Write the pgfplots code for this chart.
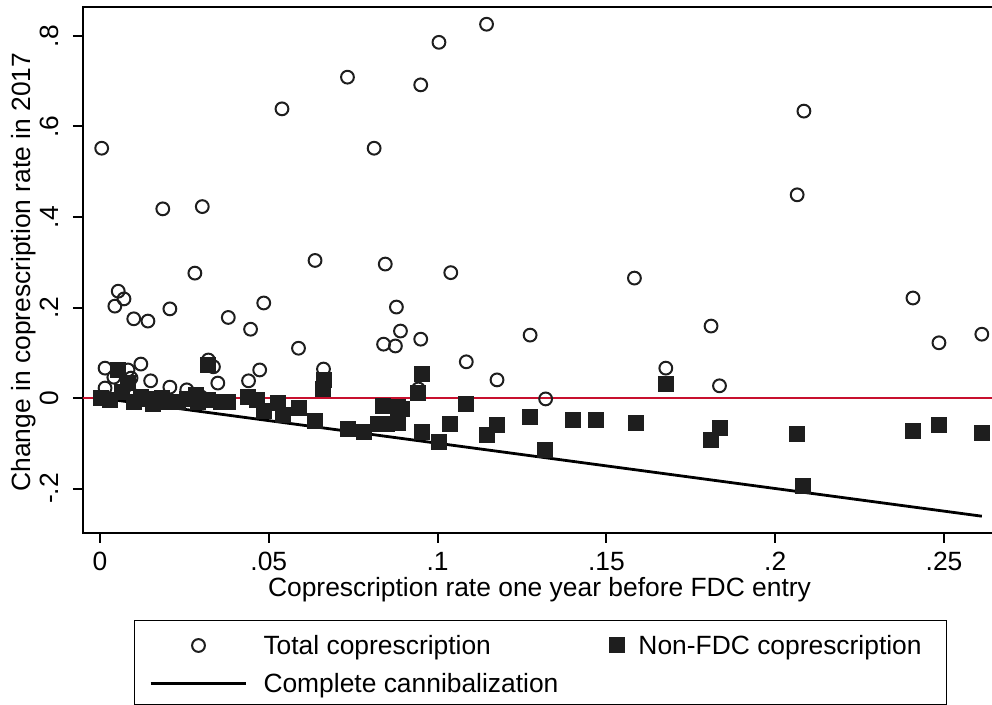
\documentclass[border=0pt]{standalone}
\usepackage{fontspec}
\setmainfont{Liberation Sans}
\usepackage{pgfplots}
\pgfplotsset{compat=1.18}
\definecolor{stred}{RGB}{200,16,46}
\definecolor{mk}{RGB}{30,30,30}

\pgfplotsset{
  cleg/.style={legend image code/.code={\path[draw=none,fill=none] (0pt,-9.5pt) rectangle (64.5pt,12.5pt);
    \draw[##1] plot coordinates {(32pt,0pt)};}},
  sleg/.style={legend image code/.code={\path[draw=none,fill=none] (0pt,-9.5pt) rectangle (21pt,12.5pt);
    \draw[##1] plot coordinates {(10.5pt,0pt)};}},
  lleg/.style={legend image code/.code={\path[draw=none,fill=none] (0pt,-10.5pt) rectangle (64.5pt,9.5pt);
    \draw[##1] (8pt,0pt) -- (55.5pt,0pt);}},
}

\pgfplotstableread{
x y
0.0005 0.552
0.0186 0.418
0.0303 0.423
0.0539 0.639
0.0733 0.709
0.0812 0.552
0.1004 0.786
0.1145 0.826
0.0950 0.692
0.0637 0.304
0.0281 0.276
0.0054 0.236
0.0071 0.219
0.0044 0.203
0.0100 0.175
0.0142 0.170
0.0207 0.197
0.0380 0.178
0.0446 0.152
0.0485 0.210
0.0588 0.110
0.0845 0.296
0.1039 0.277
0.0878 0.201
0.0890 0.148
0.0840 0.119
0.0875 0.115
0.0950 0.130
0.1085 0.080
0.1176 0.040
0.1274 0.139
0.1320 -0.002
0.1583 0.265
0.1676 0.066
0.1810 0.159
0.1835 0.027
0.2065 0.449
0.2085 0.634
0.2408 0.221
0.2485 0.122
0.2612 0.141
0.0015 0.066
0.0083 0.062
0.0121 0.075
0.0041 0.046
0.0092 0.044
0.0150 0.038
0.0015 0.022
0.0207 0.024
0.0257 0.018
0.0349 0.033
0.0440 0.038
0.0473 0.062
0.0321 0.084
0.0336 0.069
0.0662 0.064
0.0943 0.020
0.0100 0.005
0.0300 0.002
}\totaltab

\pgfplotstableread{
x y
0.0003 0.000
0.0030 -0.004
0.0054 0.062
0.0083 0.033
0.0065 0.013
0.0100 -0.009
0.0120 0.002
0.0142 -0.003
0.0157 -0.013
0.0183 0.000
0.0201 -0.009
0.0230 -0.008
0.0257 -0.002
0.0284 0.007
0.0289 -0.009
0.0321 0.073
0.0319 -0.004
0.0358 -0.009
0.0378 -0.009
0.0437 0.002
0.0464 -0.004
0.0485 -0.029
0.0526 -0.011
0.0541 -0.037
0.0588 -0.022
0.0637 -0.051
0.0662 0.040
0.0659 0.020
0.0733 -0.068
0.0783 -0.075
0.0839 -0.018
0.0881 -0.020
0.0895 -0.024
0.0822 -0.057
0.0851 -0.057
0.0881 -0.055
0.0952 0.053
0.0943 0.011
0.0952 -0.075
0.1005 -0.097
0.1037 -0.057
0.1085 -0.013
0.1147 -0.082
0.1176 -0.060
0.1274 -0.042
0.1318 -0.115
0.1400 -0.049
0.1469 -0.049
0.1587 -0.055
0.1676 0.031
0.1835 -0.066
0.1810 -0.093
0.2063 -0.080
0.2083 -0.194
0.2408 -0.073
0.2485 -0.060
0.2612 -0.077
}\nonfdctab

\begin{document}
\fontsize{13.2}{16}\selectfont
\begin{tikzpicture}
\begin{axis}[
  at={(0,0)}, anchor=south west,
  scale only axis, width=456.5pt, height=263pt,
  xmin=-0.005036, xmax=0.2654, ymin=-0.2983, ymax=0.8641,
  axis line style={line width=1pt, black},
  tick pos=left, tick align=outside,
  major tick length=5pt,
  tick style={line width=1pt, black},
  xtick={0,0.05,0.1,0.15,0.2,0.25},
  xticklabels={0,.05,.1,.15,.2,.25},
  ytick={-0.2,0,0.2,0.4,0.6,0.8},
  yticklabels={-.2,0,.2,.4,.6,.8},
  xticklabel style={anchor=north, inner sep=0pt, yshift=-4.5pt},
  yticklabel style={xshift=-7pt, rotate=90, anchor=south, inner sep=0pt},
  xlabel={Coprescription rate one year before FDC entry},
  ylabel={Change in coprescription rate in 2017},
  xlabel style={at={(axis description cs:0.5,0)}, anchor=center, yshift=-28.5pt, inner sep=0pt},
  ylabel style={at={(axis description cs:-0.0646,0.496)}, anchor=center, inner sep=0pt},
  legend columns=2,
  legend style={
    at={(axis description cs:0.05586,-0.1654)}, anchor=north west,
    draw=black, line width=0.5pt,
    inner xsep=0pt, inner ysep=0pt,
    column sep=0pt, row sep=0pt,
    cells={anchor=west},
    nodes={inner sep=0pt, text height=9.4pt, text depth=0pt},
  },
]
\addplot[stred, line width=1.1pt, forget plot] coordinates {(-0.006,0) (0.27,0)};

\addplot[only marks, mark=o, mark size=3.2pt, mk, line width=1pt, cleg]
  table[x=x,y=y] {\totaltab};
\addlegendentry{\makebox[166.5pt][l]{Total coprescription}}

\addplot[only marks, mark=square*, mark size=3.75pt, mk, fill=mk, sleg]
  table[x=x,y=y] {\nonfdctab};
\addlegendentry{\makebox[154pt][l]{Non-FDC coprescription}}

\addplot[black, line width=1.4pt, mark=none, lleg]
  coordinates {(0,0) (0.2612,-0.2612)};
\addlegendentry{\makebox[166.5pt][l]{Complete cannibalization}}
\end{axis}
\pgfresetboundingbox
\useasboundingbox (-41.5pt,-86pt) rectangle (454.5pt,266.5pt);
\end{tikzpicture}
\end{document}
